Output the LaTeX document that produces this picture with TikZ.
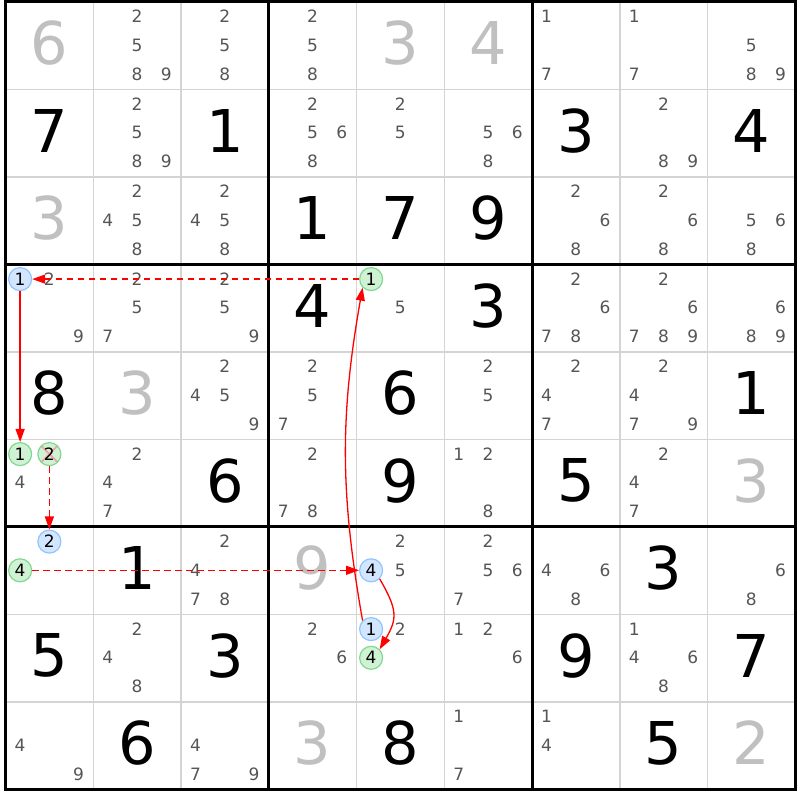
\documentclass[tikz,border=0pt]{standalone}
\usepackage{fontspec}
\setmainfont{DejaVu Sans}
\usetikzlibrary{arrows.meta}
\definecolor{givengray}{HTML}{C0C0C0}
\definecolor{pencilgray}{HTML}{555555}
\definecolor{gridgray}{HTML}{D4D4D4}
\definecolor{bfill}{HTML}{D2E6FF}
\definecolor{bdraw}{HTML}{90C4FF}
\definecolor{gfill}{HTML}{D0F2D4}
\definecolor{gdraw}{HTML}{80D890}
\definecolor{xpink}{HTML}{F2A0A8}
\definecolor{lnkred}{HTML}{FF0000}
\newcommand\setpm[3]{%
  \pgfmathsetmacro\px{5.5+(#2-1)*87.75+14.625+mod(#3-1,3)*29.25}%
  \pgfmathsetmacro\py{798.2-(#1-1)*87.5-14.8-int((#3-1)/3)*28.7}}
\newcommand\setbig[2]{%
  \pgfmathsetmacro\px{5.5+(#2-1)*87.75+43.875}%
  \pgfmathsetmacro\py{798.2-(#1-1)*87.5-43.75+2.5}}
\begin{document}
\begin{tikzpicture}[x=1pt,y=1pt,
  bigdigit/.style={font=\fontsize{59}{59}\selectfont, inner sep=0},
  givenbig/.style={bigdigit, text=givengray},
  solvedbig/.style={bigdigit, text=black},
  pm/.style={font=\fontsize{17}{17}\selectfont, text=pencilgray, inner sep=0},
  cand/.style={circle, inner sep=0, minimum size=23pt, line width=1.2pt,
    font=\fontsize{17}{17}\selectfont, text=black},
  bluec/.style={cand, fill=bfill, draw=bdraw},
  greenc/.style={cand, fill=gfill, draw=gdraw},
  crossed/.style={path picture={\draw[xpink, line width=1.8pt]
      (path picture bounding box.north west) -- (path picture bounding box.south east)
      (path picture bounding box.north east) -- (path picture bounding box.south west);}},
  cellline/.style={draw=gridgray, line width=1.5pt},
  boxline/.style={draw=black, line width=3pt},
  stronglink/.style={draw=lnkred, line width=1.3pt, -{Triangle[length=13pt,width=9pt]}},
  weaklink/.style={stronglink, dash pattern=on 6.5pt off 4.5pt},
]
\useasboundingbox (0,0) rectangle (800,800);
\fill[white] (0,0) rectangle (800,800);
% grid
\foreach \i in {1,2,4,5,7,8}{
  \draw[cellline] (5.5+\i*87.75,798.2) -- (5.5+\i*87.75,10.7);
  \draw[cellline] (5.5,798.2-\i*87.5) -- (795.25,798.2-\i*87.5);
}
\foreach \i in {0,3,6,9}{
  \draw[boxline] (5.5+\i*87.75,799.7) -- (5.5+\i*87.75,9.2);
  \draw[boxline] (4,798.2-\i*87.5) -- (796.75,798.2-\i*87.5);
}
% given digits
\foreach \r/\c/\v in {1/1/6,1/5/3,1/6/4,3/1/3,5/2/3,6/9/3,7/4/9,9/4/3,9/9/2}{
  \setbig{\r}{\c}
  \node[givenbig] (g\r\c) at (\px,\py) {\v};
}
% solved digits
\foreach \r/\c/\v in {2/1/7,2/3/1,2/7/3,2/9/4,3/4/1,3/5/7,3/6/9,4/4/4,4/6/3,
  5/1/8,5/5/6,5/9/1,6/3/6,6/5/9,6/7/5,7/2/1,7/8/3,8/1/5,8/3/3,8/7/9,8/9/7,
  9/2/6,9/5/8,9/8/5}{
  \setbig{\r}{\c}
  \node[solvedbig] (s\r\c) at (\px,\py) {\v};
}
% pencil marks
\foreach \r/\c/\ds in {1/2/{2,5,8,9},1/3/{2,5,8},1/4/{2,5,8},1/7/{1,7},1/8/{1,7},1/9/{5,8,9},
  2/2/{2,5,8,9},2/4/{2,5,6,8},2/5/{2,5},2/6/{5,6,8},2/8/{2,8,9},
  3/2/{2,4,5,8},3/3/{2,4,5,8},3/7/{2,6,8},3/8/{2,6,8},3/9/{5,6,8},
  4/1/{2,9},4/2/{2,5,7},4/3/{2,5,9},4/5/{5},4/7/{2,6,7,8},4/8/{2,6,7,8,9},4/9/{6,8,9},
  5/3/{2,4,5,9},5/4/{2,5,7},5/6/{2,5},5/7/{2,4,7},5/8/{2,4,7,9},
  6/1/{4},6/2/{2,4,7},6/4/{2,7,8},6/6/{1,2,8},6/8/{2,4,7},
  7/3/{2,4,7,8},7/5/{2,5},7/6/{2,5,6,7},7/7/{4,6,8},7/9/{6,8},
  8/2/{2,4,8},8/4/{2,6},8/5/{2},8/6/{1,2,6},8/8/{1,4,6,8},
  9/1/{4,9},9/3/{4,7,9},9/6/{1,7},9/7/{1,4}}{
  \foreach \d in \ds {
    \setpm{\r}{\c}{\d}
    \node[pm] (p\r\c\d) at (\px,\py) {\d};
  }
}
% highlighted candidates
\setpm{4}{1}{1}\node[bluec] (p411) at (\px,\py) {1};
\setpm{4}{5}{1}\node[greenc] (p451) at (\px,\py) {1};
\setpm{6}{1}{1}\node[greenc] (p611) at (\px,\py) {1};
\setpm{6}{1}{2}\node[greenc, crossed] (p612) at (\px,\py) {2};
\setpm{7}{1}{2}\node[bluec] (p712) at (\px,\py) {2};
\setpm{7}{1}{4}\node[greenc] (p714) at (\px,\py) {4};
\setpm{7}{5}{4}\node[bluec] (p754) at (\px,\py) {4};
\setpm{8}{5}{1}\node[bluec] (p851) at (\px,\py) {1};
\setpm{8}{5}{4}\node[greenc] (p854) at (\px,\py) {4};
% links
\draw[weaklink] (p451.west) -- (p411.east);
\draw[stronglink] (p411.south) -- (p611.north);
\draw[weaklink] (p612.south) -- (p712.north);
\draw[weaklink] (p714.east) -- (p754.west);
\draw[stronglink] (p851.north west) to[out=100,in=-100] (p451.south west);
\draw[stronglink] (p754.south east) to[out=-60,in=60,looseness=1.3] (p854.north east);
\end{tikzpicture}
\end{document}
